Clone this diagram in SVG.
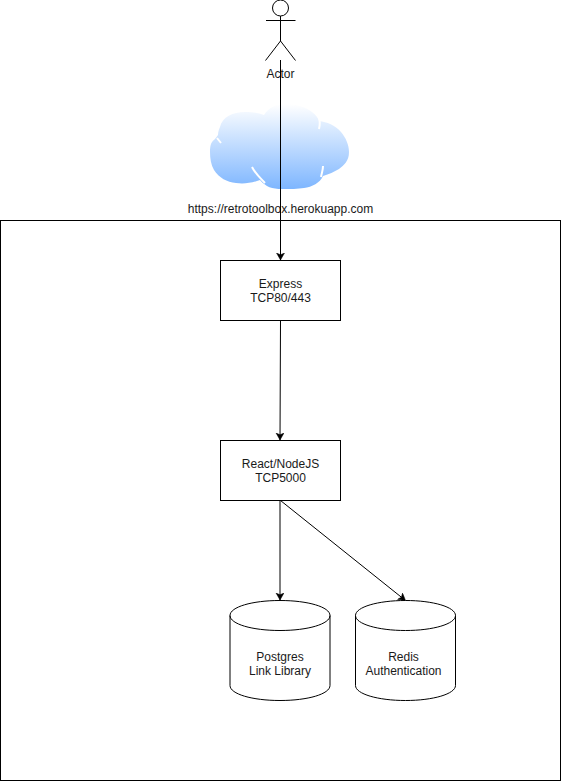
<svg xmlns="http://www.w3.org/2000/svg" width="561" height="781" viewBox="0 0 561 781">
<style>
.s{fill:#fff;stroke:#000;stroke-width:1}
.l{fill:none;stroke:#000;stroke-width:1}
text{font-family:"Liberation Sans",Arial,sans-serif;font-size:12px;fill:#1a1a1a;text-anchor:middle}
</style>
<defs>
<linearGradient id="g" x1="0" y1="0" x2="0" y2="1"><stop offset="0" stop-color="#fff"/><stop offset="1" stop-color="#7eb6ff"/></linearGradient>
<marker id="a" markerUnits="userSpaceOnUse" markerWidth="8" markerHeight="9" refX="7" refY="4" orient="auto"><path d="M0 0L7 4L0 8L1.8 4Z" fill="#000" stroke="#000" stroke-width="0.5"/></marker>
</defs>
<rect width="561" height="781" fill="#fff"/>
<g id="container"><rect class="s" x="0.5" y="220.5" width="560" height="560"/></g>
<g id="actor">
<circle class="l" cx="280.5" cy="8" r="8"/>
<path class="l" d="M280.5 16V41M266 20.5H295.500M280.5 41L265.5 60.5M280.5 41L295.5 60.5"/>
<text x="280.5" y="78">Actor</text>
</g>
<g id="cloud">
<path fill="url(#g)" d="M220 127C222 117 233 112 245 112C253 112 259 113 264 115C269 107 277 104 285 104C296 104 306 107 312 112C316 115 318 118 319 121C327 122 335 125 341 132C346 138 349 145 349 152C349 161 344 165 339 169C334 172 329 174 323 176C320 183 312 187 304 188C298 189 290 189 282 189C272 189 266 187 260 180C252 183 244 184 236 183C227 182 219 178 214 170C211 165 210 158 210 152C210 146 211 142 214 140C216 138 217 136 218 135C218 132 219 129 220 127Z"/>
<path d="M217 138L221 143M319 117C320 121 320 125 319 129M252 167C255 173 260 178 265 183M323 166C323 170 322 172 321 177" fill="none" stroke="#fff" stroke-width="2"/>
<text x="280.5" y="213">https://retrotoolbox.herokuapp.com</text>
</g>
<g id="connectors">
<path class="l" d="M280.5 60V260" marker-end="url(#a)"/>
<path class="l" d="M280.500 320.500L280 440" marker-end="url(#a)"/>
<path class="l" d="M280 500.500V600" marker-end="url(#a)"/>
<path class="l" d="M280.500 500.500L405.500 600.500" marker-end="url(#a)"/>
</g>
<g id="express"><rect class="s" x="220.5" y="260.5" width="120" height="60"/>
<text x="280.5" y="288">Express</text><text x="280.5" y="302">TCP80/443</text></g>
<g id="react"><rect class="s" x="220.5" y="440.5" width="120" height="60"/>
<text x="280.5" y="468">React/NodeJS</text><text x="280.5" y="482">TCP5000</text></g>
<g id="postgres">
<path class="s" d="M230 615.500C230 607 252 600.500 280 600.500C308 600.500 330 607 330 615.500V685.500C330 694 308 700.500 280 700.500C252 700.500 230 694 230 685.500Z"/>
<path class="l" d="M230 615.500C230 624 252 630.500 280 630.500C308 630.500 330 624 330 615.500"/>
<text x="280" y="661">Postgres</text><text x="280" y="675">Link Library</text></g>
<g id="redis">
<path class="s" d="M355.500 615.500C355.500 607 378 600.500 405.500 600.500C433 600.500 455.500 607 455.500 615.500V685.500C455.500 694 433 700.500 405.500 700.500C378 700.500 355.500 694 355.500 685.500Z"/>
<path class="l" d="M355.500 615.500C355.500 624 378 630.500 405.500 630.500C433 630.500 455.500 624 455.500 615.500"/>
<text x="403.500" y="661">Redis</text><text x="403.500" y="675">Authentication</text></g>
</svg>
